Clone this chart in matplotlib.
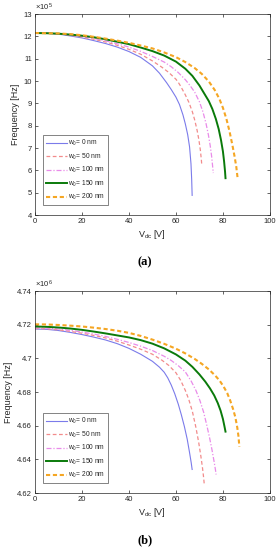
import matplotlib.pyplot as plt
from matplotlib.ticker import FuncFormatter

# (a) frequency in units of 1e5 Hz
va0 = [0, 5, 10, 15, 20, 25, 30, 35, 40, 45, 50, 53, 56, 58, 60, 61.5, 63, 64, 65, 65.8, 66.4, 66.7, 66.9]
fa0 = [12.15, 12.14, 12.10, 12.02, 11.93, 11.81, 11.68, 11.52, 11.32, 11.06, 10.68, 10.35, 9.93, 9.62,
       9.28, 8.95, 8.48, 8.08, 7.6, 7.05, 6.3, 5.6, 4.88]
va50 = [0, 5, 10, 15, 20, 25, 30, 35, 40, 45, 50, 54, 57, 60, 61, 62, 64, 65.5, 67, 68, 69, 69.8, 70.4, 70.8, 70.95]
fa50 = [12.15, 12.14, 12.11, 12.05, 11.97, 11.87, 11.75, 11.6, 11.42, 11.2, 10.9, 10.62, 10.38, 10.08,
        9.94, 9.77, 9.38, 9.05, 8.62, 8.25, 7.8, 7.35, 6.9, 6.5, 6.3]
va100 = [0, 5, 10, 15, 20, 25, 30, 35, 40, 45, 50, 55, 58, 61, 64, 66, 68, 70, 71.5, 72.8, 73.8, 74.6, 75.2, 75.6, 75.9]
fa100 = [12.15, 12.14, 12.12, 12.07, 12.0, 11.91, 11.8, 11.67, 11.52, 11.33, 11.1, 10.85, 10.64, 10.38,
         10.06, 9.8, 9.5, 9.07, 8.62, 8.1, 7.6, 7.1, 6.62, 6.2, 5.88]
va150 = [0, 5, 10, 15, 20, 25, 30, 35, 40, 45, 50, 55, 60, 64, 67, 70, 72, 74, 75.5, 77, 78.2, 79.2, 80, 80.5, 80.9, 81.1]
fa150 = [12.15, 12.14, 12.12, 12.08, 12.03, 11.96, 11.87, 11.76, 11.65, 11.5, 11.34, 11.14, 10.87, 10.55,
         10.23, 9.8, 9.45, 9.1, 8.75, 8.3, 7.85, 7.35, 6.85, 6.4, 5.95, 5.65]
va200 = [0, 5, 10, 15, 20, 25, 30, 35, 40, 45, 50, 55, 60, 64, 68, 71, 74, 76.5, 78.5, 80, 81.5, 82.8, 84, 85, 85.7, 86.2]
fa200 = [12.15, 12.14, 12.13, 12.1, 12.05, 11.98, 11.9, 11.81, 11.71, 11.59, 11.46, 11.28, 11.07, 10.85,
         10.58, 10.32, 9.98, 9.6, 9.2, 8.8, 8.3, 7.75, 7.15, 6.6, 6.15, 5.7]

# (b) frequency in units of 1e6 Hz
vb0 = [0, 5, 10, 15, 20, 25, 30, 35, 40, 45, 50, 53, 55, 56.5, 58, 59.5, 61, 62.3, 63.6, 64.8, 65.8, 66.5, 66.9]
fb0 = [4.7175, 4.7173, 4.7166, 4.7155, 4.7142, 4.7127, 4.7110, 4.7088, 4.7060, 4.7025, 4.6983, 4.6948,
       4.6918, 4.6885, 4.6842, 4.6790, 4.6728, 4.6665, 4.6595, 4.6520, 4.6440, 4.6380, 4.6340]
vb50 = [0, 5, 10, 15, 20, 25, 30, 35, 40, 45, 50, 54, 57, 60, 62, 64, 65.5, 67, 68.5, 69.7, 70.6, 71.3, 71.8, 72.1]
fb50 = [4.7178, 4.7176, 4.7170, 4.7161, 4.7150, 4.7137, 4.7122, 4.7103, 4.7080, 4.7055, 4.7025, 4.6990,
        4.6958, 4.6915, 4.6870, 4.6810, 4.6755, 4.6685, 4.6590, 4.6500, 4.6420, 4.6350, 4.6290, 4.6245]
vb100 = [0, 5, 10, 15, 20, 25, 30, 35, 40, 45, 50, 55, 58, 61, 64, 66.5, 68.5, 70.2, 71.8, 73.1, 74.3, 75.3, 76.2, 76.8, 77.1]
fb100 = [4.7182, 4.7180, 4.7175, 4.7167, 4.7157, 4.7145, 4.7131, 4.7114, 4.7095, 4.7073, 4.7047, 4.7013,
         4.6988, 4.6957, 4.6920, 4.6865, 4.6810, 4.6750, 4.6680, 4.6605, 4.6530, 4.6460, 4.6390, 4.6340, 4.6310]
vb150 = [0, 5, 10, 15, 20, 25, 30, 35, 40, 45, 50, 55, 60, 64, 67, 70, 72.5, 74.5, 76.3, 77.8, 79, 80, 80.6, 81.1]
fb150 = [4.7190, 4.7188, 4.7184, 4.7178, 4.7170, 4.7160, 4.7149, 4.7137, 4.7125, 4.7109, 4.7088, 4.7060,
         4.7024, 4.6987, 4.6950, 4.6905, 4.6862, 4.6822, 4.6780, 4.6735, 4.6690, 4.6640, 4.6600, 4.6565]
vb200 = [0, 5, 10, 15, 20, 25, 30, 35, 40, 45, 50, 55, 60, 64, 68, 71, 74, 76.6, 78.5, 80.2, 81.8, 83.1,
         84.3, 85.3, 86.1, 86.6, 87.0]
fb200 = [4.7203, 4.7202, 4.7199, 4.7195, 4.7190, 4.7183, 4.7175, 4.7165, 4.7152, 4.7134, 4.7112, 4.7087,
         4.7058, 4.7030, 4.6997, 4.6968, 4.6935, 4.6900, 4.6870, 4.6835, 4.6795, 4.6750, 4.6700, 4.6650,
         4.6590, 4.6540, 4.6475]

labels = ["w$_0$= 0 nm", "w$_0$= 50 nm", "w$_0$= 100 nm", "w$_0$= 150 nm", "w$_0$= 200 nm"]
styles = [
    dict(color="#7b7bea", ls="-", lw=0.8),
    dict(color="#f28b8b", ls=(0, (3, 2)), lw=0.9),
    dict(color="#e98be9", ls=(0, (4, 1.5, 1, 1.5)), lw=0.9),
    dict(color="#0a7a0a", ls="-", lw=1.4),
    dict(color="#f5a623", ls=(0, (2, 1.3)), lw=1.5),
]

plt.rcParams["font.family"] = ["Liberation Sans", "DejaVu Sans"]
plt.rcParams["mathtext.fontset"] = "custom"
plt.rcParams["mathtext.rm"] = "Liberation Sans"
plt.rcParams["mathtext.it"] = "Liberation Sans"

gray = "#262626"
fig = plt.figure(figsize=(2.79, 5.5), dpi=100)
ax1 = fig.add_axes([0.1254, 0.609, 0.842, 0.3655])
ax2 = fig.add_axes([0.1254, 0.1036, 0.842, 0.367])

panels = [
    (ax1, [(va0, fa0), (va50, fa50), (va100, fa100), (va150, fa150), (va200, fa200)],
     (4, 13), list(range(4, 14)), "$\\times10^5$"),
    (ax2, [(vb0, fb0), (vb50, fb50), (vb100, fb100), (vb150, fb150), (vb200, fb200)],
     (4.62, 4.74), [4.62, 4.64, 4.66, 4.68, 4.70, 4.72, 4.74], "$\\times10^6$"),
]

for ax, series, ylim, yticks, mult in panels:
    for (v, f), lab, st in zip(series, labels, styles):
        ax.plot(v, f, label=lab, **st)
    ax.set_xlim(0, 100)
    ax.set_ylim(*ylim)
    ax.set_xticks([0, 20, 40, 60, 80, 100])
    ax.set_yticks(yticks)
    ax.yaxis.set_major_formatter(FuncFormatter(lambda y, p: "%g" % round(y, 4)))
    ax.tick_params(direction="in", top=True, right=True, labelsize=5.5,
                   length=2.5, width=0.5, colors=gray, pad=2)
    for s in ax.spines.values():
        s.set_linewidth(0.5)
        s.set_color(gray)
    ax.set_xlabel("V$_{dc}$ [V]", fontsize=6.5, color=gray, labelpad=2)
    ax.set_ylabel("Frequency [Hz]", fontsize=6.5, color=gray, labelpad=3)
    ax.text(0.0, 1.005, mult, transform=ax.transAxes, fontsize=5.5, color=gray,
            ha="left", va="bottom")
    leg = ax.legend(loc="lower left", fontsize=4.8, frameon=True, fancybox=False,
                    edgecolor=gray, handlelength=3.2, handletextpad=0.2,
                    labelspacing=0.5, borderpad=0.4, borderaxespad=0,
                    bbox_to_anchor=(0.034, 0.05))
    leg.get_frame().set_linewidth(0.5)
    for t in leg.get_texts():
        t.set_color(gray)

fig.text(0.52, 0.5236, "(a)", ha="center", va="center", fontsize=9,
         fontweight="bold", family="Liberation Serif")
fig.text(0.52, 0.018, "(b)", ha="center", va="center", fontsize=9,
         fontweight="bold", family="Liberation Serif")

plt.savefig("out.png", dpi=100)
